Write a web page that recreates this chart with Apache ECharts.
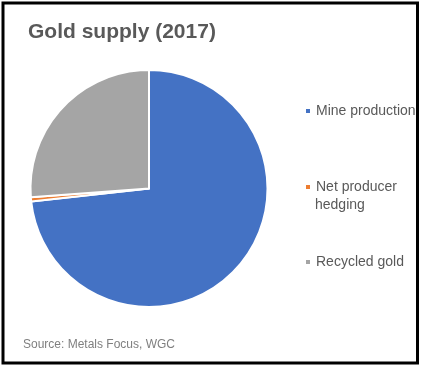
<!DOCTYPE html>
<html>
<head>
<meta charset="utf-8">
<script src="https://cdn.jsdelivr.net/npm/echarts@6/dist/echarts.min.js"></script>
<style>html,body{margin:0;padding:0;background:#fff;}#c{width:421px;height:368px;}</style>
</head>
<body>
<div id="c"></div>
<script>
var categories = ['Mine production', 'Net producer hedging', 'Recycled gold'];
var values = [3247, 26, 1160];
var colors = ['#4472C4', '#ED7D31', '#A5A5A5'];
var titleText = 'Gold supply (2017)';
var sourceText = 'Source: Metals Focus, WGC';

var chart = echarts.init(document.getElementById('c'), null, {renderer: 'canvas'});
var font = '"Liberation Sans", Arial, sans-serif';
var legendTops = [99, 175, 250];
var legendLabels = ['Mine production', 'Net producer', 'Recycled gold'];
var legends = categories.map(function (name, i) {
  return {
    orient: 'vertical', left: 299, top: legendTops[i],
    data: [name], itemWidth: 6, itemHeight: 6, itemGap: 0,
    icon: 'rect', selectedMode: false,
    formatter: function () { return legendLabels[i]; },
    textStyle: {fontFamily: font, fontSize: 14, color: '#595959', padding: [0, 0, 0, 0]}
  };
});
chart.setOption({
  animation: false,
  color: colors,
  title: {
    text: titleText, left: 23, top: 17,
    textStyle: {fontFamily: font, fontSize: 21, fontWeight: 'bold', color: '#595959'}
  },
  legend: legends,
  graphic: [
    {type: 'rect', shape: {x: 3, y: 3, width: 414.5, height: 360}, style: {fill: 'none', stroke: '#000', lineWidth: 3}, z: 100},
    {type: 'text', left: 315, top: 198, style: {text: 'hedging', font: '14px ' + font, fill: '#595959'}},
    {type: 'text', left: 23, top: 339, style: {text: sourceText, font: '12px ' + font, fill: '#7F7F7F'}}
  ],
  series: [{
    type: 'pie', center: [149, 188.5], radius: 118.5, startAngle: 90, clockwise: true,
    label: {show: false}, labelLine: {show: false},
    itemStyle: {borderColor: '#fff', borderWidth: 2},
    emphasis: {disabled: true},
    data: categories.map(function (n, i) { return {name: n, value: values[i]}; })
  }]
});
</script>
</body>
</html>
